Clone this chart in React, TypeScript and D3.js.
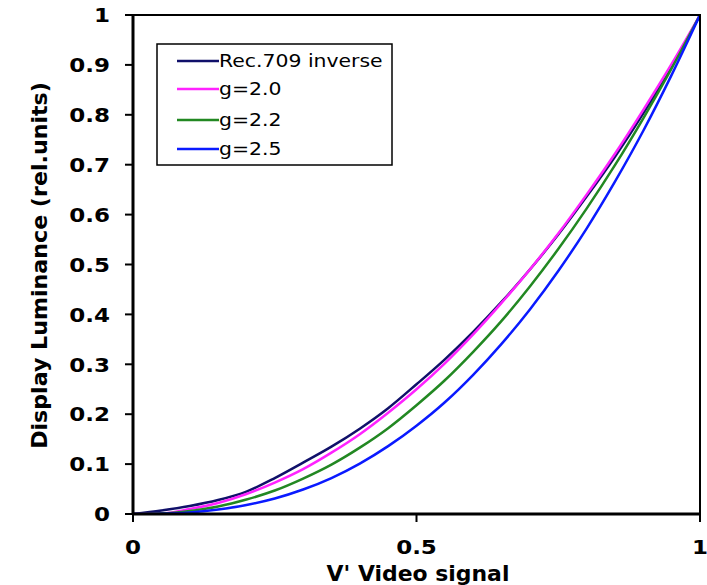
import React from "react";
import * as d3 from "d3";

const xValues = [0, 0.05, 0.1, 0.15, 0.2, 0.25, 0.3, 0.35, 0.4, 0.45, 0.5, 0.55, 0.6, 0.65, 0.7, 0.75, 0.8, 0.85, 0.9, 0.95, 1];
const rec709 = [0, 0.007, 0.016, 0.028, 0.045, 0.072, 0.103, 0.135, 0.171, 0.212, 0.26, 0.31, 0.365, 0.425, 0.49, 0.56, 0.636, 0.716, 0.803, 0.897, 1];
const g20 = [0, 0.001, 0.01, 0.022, 0.04, 0.063, 0.09, 0.123, 0.16, 0.203, 0.25, 0.302, 0.36, 0.423, 0.49, 0.562, 0.64, 0.722, 0.81, 0.902, 1];
const g22 = [0, 0.001, 0.006, 0.015, 0.029, 0.047, 0.071, 0.099, 0.133, 0.172, 0.218, 0.268, 0.325, 0.387, 0.456, 0.531, 0.612, 0.699, 0.793, 0.893, 1];
const g25 = [0, 0.0006, 0.003, 0.009, 0.018, 0.031, 0.049, 0.072, 0.101, 0.136, 0.177, 0.224, 0.279, 0.341, 0.41, 0.487, 0.572, 0.666, 0.768, 0.88, 1];
const seriesNames = ["Rec.709 inverse", "g=2.0", "g=2.2", "g=2.5"];
const seriesColors = ["#10106a", "#ff22ff", "#228822", "#0a1aff"];
const yTicks = [0, 0.1, 0.2, 0.3, 0.4, 0.5, 0.6, 0.7, 0.8, 0.9, 1];
const xTicks = [0, 0.5, 1];

const font = "'DejaVu Sans', Verdana, sans-serif";

function T(props: {
  x: number;
  y: number;
  sx?: number;
  rotate?: number;
  size: number;
  bold?: boolean;
  anchor?: string;
  dy?: string;
  children: React.ReactNode;
}) {
  const { x, y, sx = 1, rotate = 0, size, bold, anchor = "start", dy, children } = props;
  return (
    <g transform={`translate(${x},${y}) rotate(${rotate}) scale(${sx},1)`}>
      <text
        x={0}
        y={0}
        dy={dy}
        textAnchor={anchor}
        fontFamily={font}
        fontWeight={bold ? "bold" : "normal"}
        fontSize={size}
        fill="#000"
      >
        {children}
      </text>
    </g>
  );
}

export default function App() {
  const left = 133, right = 700, top = 15, bottom = 514;
  const x = d3.scaleLinear().domain([0, 1]).range([left, right]);
  const y = d3.scaleLinear().domain([0, 1]).range([bottom, top]);
  const all = [rec709, g20, g22, g25];
  const line = d3
    .line<[number, number]>()
    .x((d) => x(d[0]))
    .y((d) => y(d[1]))
    .curve(d3.curveMonotoneX);
  const legendRows = [61, 89, 120, 149];
  return (
    <svg width={707} height={585} style={{ position: "absolute", left: 0, top: 0, background: "#fff" }}>
      <defs>
        <clipPath id="clip">
          <rect x={left} y={top - 2} width={right - left + 2} height={bottom - top + 2} />
        </clipPath>
      </defs>
      <g clipPath="url(#clip)">
        {all.map((s, i) => (
          <path
            key={i}
            d={line(xValues.map((v, j) => [v, s[j]]) as [number, number][]) || ""}
            fill="none"
            stroke={seriesColors[i]}
            strokeWidth={2.5}
          />
        ))}
      </g>
      <rect x={left} y={top} width={right - left} height={bottom - top} fill="none" stroke="#000" strokeWidth={2} />
      <line x1={left} x2={left} y1={top} y2={bottom} stroke="#000" strokeWidth={3} />
      <line x1={left} x2={right} y1={bottom} y2={bottom} stroke="#000" strokeWidth={3} />
      {yTicks.map((t) => (
        <g key={t}>
          <line x1={left - 8} x2={left} y1={y(t)} y2={y(t)} stroke="#000" strokeWidth={2} />
          <T x={110} y={y(t)} dy="0.36em" anchor="end" bold size={20} sx={1.15}>
            {t === 0 || t === 1 ? String(t) : t.toFixed(1)}
          </T>
        </g>
      ))}
      {xTicks.map((t) => (
        <g key={t}>
          <line x1={x(t)} x2={x(t)} y1={bottom} y2={bottom + 8} stroke="#000" strokeWidth={2} />
          <T x={x(t)} y={554} anchor="middle" bold size={20} sx={1.15}>
            {String(t)}
          </T>
        </g>
      ))}
      <T x={418} y={581} anchor="middle" bold size={20.5} sx={1.07}>
        V' Video signal
      </T>
      <T x={47} y={265.5} rotate={-90} anchor="middle" bold size={20.5} sx={1.08}>
        Display Luminance (rel.units)
      </T>
      <rect x={157} y={44} width={235} height={121} fill="#fff" stroke="#000" strokeWidth={1.5} />
      {seriesNames.map((n, i) => (
        <g key={n}>
          <line x1={177} x2={219} y1={legendRows[i]} y2={legendRows[i]} stroke={seriesColors[i]} strokeWidth={2.5} />
          <T x={219} y={legendRows[i]} dy="0.36em" size={17} sx={1.2}>
            {n}
          </T>
        </g>
      ))}
    </svg>
  );
}
